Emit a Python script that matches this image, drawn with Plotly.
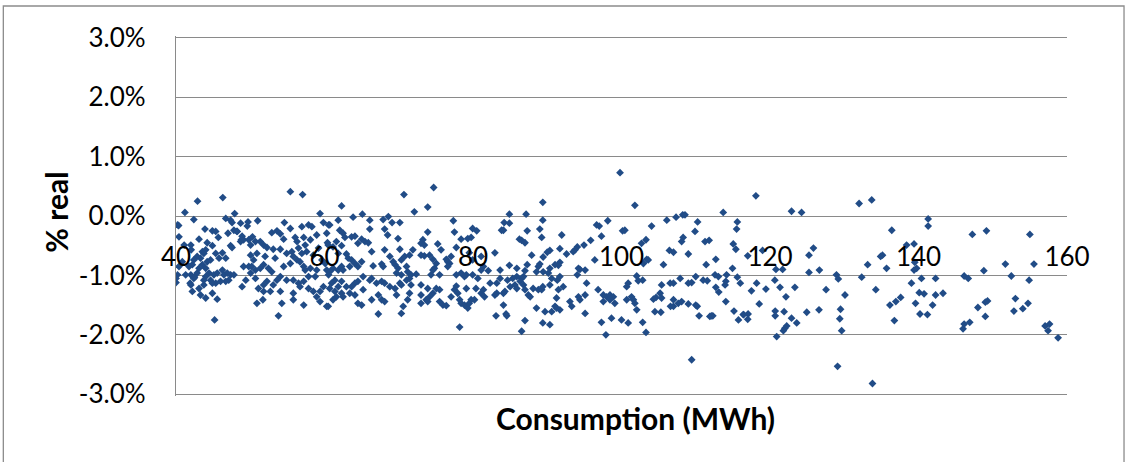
import plotly.graph_objects as go

# (consumption MWh, % real), grouped by consumption band
seg_40_50 = [
    (46.3, 0.31), (42.9, 0.25), (41.2, 0.06), (42.4, -0.06), (40.35, -0.16), (40.4, -0.35),
    (47.9, 0.04), (46.7, -0.04), (47.35, -0.07), (47.55, -0.11), (48.7, -0.12), (49.7, -0.10),
    (49.6, -0.17), (43.9, -0.22), (44.9, -0.25), (45.35, -0.26), (45.7, -0.36), (47.0, -0.29),
    (47.8, -0.24), (48.25, -0.26), (48.9, -0.34), (49.1, -0.40), (49.8, -0.40), (48.7, -0.43),
    (43.1, -0.39), (44.2, -0.45), (44.9, -0.50), (41.1, -0.49), (42.0, -0.49), (42.05, -0.57),
    (44.0, -0.57), (43.55, -0.60), (45.35, -0.63), (46.25, -0.62), (47.35, -0.50), (47.55, -0.53),
    (45.8, -0.71), (46.7, -0.71), (44.65, -0.74), (44.2, -0.77), (43.75, -0.63), (43.3, -0.71),
    (42.85, -0.68), (42.4, -0.74), (42.2, -0.82), (41.75, -0.85), (40.85, -0.77), (40.4, -0.85),
    (40.2, -0.99), (40.0, -1.12), (41.3, -0.99), (42.0, -0.99), (42.4, -1.05), (42.85, -0.96),
    (43.1, -0.88), (43.55, -0.82), (44.0, -0.88), (44.0, -1.02), (43.75, -1.08), (44.45, -0.96),
    (45.1, -0.99), (45.55, -0.96), (46.25, -0.91), (46.45, -0.99), (46.9, -0.96), (47.35, -0.99),
    (47.8, -0.99), (47.1, -1.08), (46.7, -1.10), (46.0, -1.10), (45.35, -1.13), (44.65, -1.08),
    (44.9, -1.13), (43.75, -1.16), (43.1, -1.22), (42.0, -1.16), (42.2, -1.27), (43.3, -1.33),
    (44.0, -1.38), (44.9, -1.30), (45.55, -1.40), (49.1, -0.85), (49.4, -1.08), (48.9, -1.19),
    (49.8, -0.85), (50.05, -0.96), (50.05, -0.66), (50.05, -0.49), (50.3, -0.35), (45.2, -1.75),
    (40.2, -0.15), (40.0, -1.05), (41.9, -1.13), (42.5, -1.03), (48.2, -0.26), (48.8, -0.40),
]

seg_50_60 = [
    (55.4, 0.41), (57.05, 0.36), (59.4, 0.04), (51.0, -0.08), (54.6, -0.11), (55.4, -0.21),
    (56.95, -0.18), (57.85, -0.15), (58.3, -0.18), (59.85, -0.11), (60.55, -0.15), (52.9, -0.28),
    (53.6, -0.25), (54.05, -0.30), (54.5, -0.39), (51.35, -0.43), (50.7, -0.43), (51.8, -0.49),
    (52.25, -0.53), (56.05, -0.36), (57.2, -0.36), (56.3, -0.43), (56.5, -0.54), (57.4, -0.49),
    (58.1, -0.40), (58.95, -0.32), (60.3, -0.29), (60.4, -0.45), (59.2, -0.54), (58.5, -0.66),
    (57.6, -0.60), (56.95, -0.63), (55.6, -0.60), (54.9, -0.63), (55.8, -0.68), (54.05, -0.56),
    (53.1, -0.56), (53.35, -0.71), (52.0, -0.68), (50.9, -0.63), (50.45, -0.74), (50.2, -0.85),
    (50.7, -0.91), (51.35, -0.88), (52.45, -0.88), (52.9, -0.94), (51.8, -0.82), (54.5, -0.85),
    (55.4, -0.80), (56.3, -0.74), (56.7, -0.77), (57.2, -0.85), (57.4, -0.91), (58.1, -0.88),
    (58.95, -0.91), (59.65, -0.74), (60.1, -0.80), (60.3, -0.91), (60.55, -0.99), (58.75, -1.02),
    (57.85, -1.02), (57.2, -1.10), (56.5, -1.13), (55.8, -1.08), (54.9, -1.08), (54.05, -1.02),
    (53.6, -1.08), (53.1, -1.16), (52.25, -1.10), (51.8, -1.16), (51.1, -1.22), (50.7, -1.05),
    (51.8, -1.27), (52.7, -1.27), (54.05, -1.27), (55.8, -1.30), (56.7, -1.19), (57.85, -1.22),
    (58.5, -1.27), (59.4, -1.27), (59.85, -1.19), (58.95, -1.36), (59.4, -1.44), (60.3, -1.52),
    (57.2, -1.50), (55.8, -1.41), (54.25, -1.47), (51.7, -1.41), (50.9, -1.47), (53.8, -1.68),
]

seg_60_71 = [
    (70.7, 0.36), (62.3, 0.17), (65.1, 0.03), (63.85, -0.02), (61.85, -0.07), (66.1, -0.07),
    (67.9, -0.06), (68.6, -0.01), (69.1, -0.11), (70.15, -0.11), (60.7, -0.15), (62.05, -0.24),
    (62.5, -0.29), (62.75, -0.36), (63.65, -0.35), (64.1, -0.34), (65.0, -0.39), (65.45, -0.43),
    (65.9, -0.45), (64.5, -0.46), (66.1, -0.22), (68.1, -0.22), (68.5, -0.32), (69.9, -0.38),
    (70.15, -0.56), (68.1, -0.57), (66.35, -0.60), (62.3, -0.50), (61.6, -0.43), (61.15, -0.52),
    (60.5, -0.49), (61.85, -0.63), (62.95, -0.64), (63.2, -0.71), (63.65, -0.74), (64.1, -0.80),
    (64.5, -0.85), (65.0, -0.77), (63.4, -0.85), (62.3, -0.85), (61.85, -0.91), (62.5, -0.91),
    (61.15, -0.88), (60.7, -0.94), (66.55, -0.84), (67.7, -0.81), (67.9, -0.85), (68.8, -0.68),
    (69.25, -0.77), (69.5, -0.82), (69.9, -0.88), (70.35, -0.74), (70.8, -0.68), (71.05, -0.85),
    (69.7, -0.96), (70.35, -0.99), (71.05, -1.08), (70.15, -1.13), (70.35, -1.16), (69.5, -1.22),
    (68.8, -1.19), (68.1, -1.13), (67.7, -1.10), (67.0, -1.13), (66.35, -1.05), (66.1, -1.08),
    (65.2, -1.02), (64.5, -1.10), (64.1, -1.13), (63.65, -1.19), (62.95, -1.19), (62.3, -1.10),
    (61.85, -1.19), (61.4, -1.08), (60.95, -1.13), (60.7, -1.22), (61.4, -1.27), (62.3, -1.30),
    (61.6, -1.36), (61.15, -1.41), (62.5, -1.36), (63.4, -1.30), (64.1, -1.33), (65.2, -1.24),
    (66.35, -1.41), (67.25, -1.33), (67.7, -1.41), (68.1, -1.44), (64.5, -1.47), (65.0, -1.50),
    (67.25, -1.65), (70.35, -1.64), (70.6, -1.52), (69.7, -1.33), (60.5, -1.52),
]

seg_71_82 = [
    (74.7, 0.48), (72.1, 0.07), (73.9, 0.15), (77.35, -0.08), (77.5, -0.27), (73.9, -0.27),
    (79.95, -0.21), (80.5, -0.25), (79.75, -0.36), (79.3, -0.38), (78.4, -0.39), (77.75, -0.53),
    (73.25, -0.40), (73.0, -0.46), (73.45, -0.49), (75.25, -0.47), (75.7, -0.57), (71.9, -0.57),
    (71.45, -0.66), (73.0, -0.66), (73.45, -0.67), (74.15, -0.66), (74.6, -0.73), (75.05, -0.80),
    (74.8, -0.88), (74.6, -0.91), (76.4, -0.73), (76.6, -0.77), (76.85, -0.80), (77.05, -0.68),
    (76.6, -0.85), (79.5, -0.62), (79.95, -0.74), (81.1, -0.68), (81.4, -0.85), (81.1, -0.91),
    (79.95, -0.99), (80.65, -1.05), (79.1, -0.99), (78.85, -1.02), (78.4, -0.96), (77.75, -0.99),
    (75.5, -0.99), (74.35, -0.99), (72.35, -0.98), (71.65, -0.99), (71.2, -0.94), (71.45, -1.05),
    (71.65, -1.16), (73.0, -1.16), (73.9, -1.22), (75.05, -1.22), (75.5, -1.24), (74.6, -1.30),
    (74.15, -1.36), (73.7, -1.41), (73.0, -1.33), (73.0, -1.47), (73.9, -1.44), (71.45, -1.30),
    (71.2, -1.41), (75.5, -1.44), (75.95, -1.50), (76.4, -1.51), (77.05, -1.36), (77.5, -1.24),
    (77.75, -1.18), (77.95, -1.30), (78.2, -1.41), (78.4, -1.47), (78.85, -1.50), (79.5, -1.47),
    (79.75, -1.41), (80.2, -1.41), (79.3, -1.55), (79.1, -1.22), (80.4, -1.22), (81.1, -1.30),
    (81.4, -1.24), (81.55, -1.36), (78.2, -1.87),
]

seg_82_101 = [
    (99.8, 0.73), (89.4, 0.23), (84.9, 0.03), (87.15, 0.03), (89.4, -0.07), (84.2, -0.11),
    (84.9, -0.12), (83.85, -0.24), (84.1, -0.24), (86.25, -0.39), (86.55, -0.41), (87.0, -0.45),
    (87.3, -0.25), (89.0, -0.22), (89.25, -0.36), (91.95, -0.32), (96.65, -0.15), (97.0, -0.17),
    (98.15, -0.08), (100.15, -0.25), (100.45, -0.24), (97.3, -0.34), (95.85, -0.41), (94.95, -0.49),
    (94.05, -0.52), (93.75, -0.57), (93.5, -0.60), (92.6, -0.64), (91.7, -0.55), (90.35, -0.58),
    (90.0, -0.61), (89.45, -0.69), (89.0, -0.81), (88.8, -0.85), (87.9, -0.66), (87.3, -0.82),
    (87.0, -0.92), (85.9, -0.88), (84.9, -0.83), (83.65, -0.91), (82.95, -0.62), (82.05, -0.92),
    (91.7, -0.78), (91.5, -0.83), (91.05, -0.82), (90.35, -0.88), (90.15, -0.96), (89.45, -0.94),
    (88.55, -0.94), (86.8, -1.02), (86.55, -1.05), (85.9, -1.02), (85.35, -1.05), (84.65, -1.08),
    (83.65, -1.05), (83.2, -1.13), (82.3, -1.13), (82.95, -1.33), (83.2, -1.30), (84.1, -1.30),
    (84.3, -1.27), (85.0, -1.19), (85.65, -1.16), (85.9, -1.22), (86.35, -1.10), (86.8, -1.16),
    (87.0, -1.24), (87.45, -1.33), (87.7, -1.36), (88.1, -1.22), (88.8, -1.24), (89.25, -1.24),
    (89.4, -1.19), (90.35, -1.16), (90.6, -1.05), (91.35, -1.08), (91.7, -1.02), (92.15, -1.19),
    (91.5, -1.24), (91.25, -1.38), (91.7, -1.58), (91.25, -1.55), (91.05, -1.52), (90.6, -1.61),
    (89.7, -1.61), (88.55, -1.55), (84.1, -1.50), (84.45, -1.65), (84.55, -1.68), (83.1, -1.68),
    (87.0, -1.76), (86.55, -1.94), (89.4, -1.80), (90.35, -1.83), (93.05, -1.44), (93.3, -1.52),
    (94.2, -1.36), (94.4, -1.41), (95.1, -1.33), (95.3, -1.13), (94.05, -0.99), (94.2, -0.88),
    (94.4, -0.90), (95.1, -0.91), (96.4, -0.74), (96.85, -1.24), (97.55, -1.33), (98.0, -1.36),
    (98.45, -1.33), (98.9, -1.36), (98.45, -1.41), (99.1, -1.47), (97.55, -1.44), (97.3, -1.79),
    (97.9, -2.00), (98.65, -1.72), (100.0, -1.75), (100.9, -1.80), (100.7, -1.19), (100.9, -1.13),
    (100.7, -1.41), (95.1, -1.64),
]

seg_101_121 = [
    (101.8, 0.18), (118.1, 0.34), (104.05, -0.17), (106.1, -0.07), (107.35, -0.02), (108.25, 0.02),
    (108.55, 0.02), (110.25, -0.10), (109.9, -0.26), (108.3, -0.36), (108.1, -0.43), (113.7, 0.06),
    (115.6, -0.10), (115.5, -0.22), (115.05, -0.47), (115.4, -0.56), (111.25, -0.43), (111.8, -0.41),
    (109.0, -0.64), (106.45, -0.58), (107.0, -0.61), (103.3, -0.40), (102.7, -0.46), (103.4, -0.73),
    (103.6, -0.74), (102.95, -0.80), (105.65, -0.82), (111.4, -0.82), (112.7, -0.73), (117.0, -0.67),
    (119.0, -0.58), (120.8, -0.90), (114.95, -0.88), (114.15, -0.99), (114.05, -1.10), (113.95, -1.16),
    (112.6, -0.99), (113.05, -1.02), (111.0, -1.08), (111.55, -1.09), (110.0, -1.02), (109.45, -1.12),
    (109.0, -1.13), (107.9, -1.05), (106.55, -1.13), (107.0, -1.13), (105.4, -1.16), (102.05, -1.01),
    (102.25, -1.09), (102.85, -1.08), (101.35, -1.36), (101.6, -1.41), (101.8, -1.47), (102.05, -1.58),
    (104.65, -1.37), (104.3, -1.40), (105.2, -1.30), (105.4, -1.38), (107.0, -1.41), (107.65, -1.47),
    (108.1, -1.44), (109.0, -1.48), (110.0, -1.50), (110.2, -1.52), (107.0, -1.52), (106.6, -1.52),
    (104.5, -1.61), (105.3, -1.62), (110.45, -1.68), (111.9, -1.69), (112.3, -1.68), (114.05, -1.44),
    (115.15, -1.60), (115.75, -1.75), (116.4, -1.66), (117.05, -1.65), (117.0, -1.74), (117.5, -1.26),
    (118.2, -1.13), (118.55, -1.48), (119.45, -1.23), (120.65, -1.08), (120.7, -1.60), (120.7, -1.68),
    (120.9, -2.03), (121.35, -1.20), (102.85, -1.79), (103.3, -1.96), (109.45, -2.42), (115.6, -1.03),
    (116.0, -1.13), (112.7, -1.20), (113.1, -1.28), (112.1, -1.68), (116.45, -1.66),
]

seg_121_141 = [
    (122.9, 0.08), (124.25, 0.06), (132.0, 0.21), (133.7, 0.27), (141.3, -0.05), (141.3, -0.17),
    (136.4, -0.24), (138.4, -0.49), (139.4, -0.47), (139.5, -0.78), (139.75, -0.88), (139.4, -0.91),
    (135.15, -0.66), (134.9, -0.68), (135.7, -0.88), (133.15, -0.82), (132.35, -1.03), (134.25, -1.24),
    (128.95, -0.99), (129.2, -1.06), (130.1, -1.33), (127.55, -1.24), (126.65, -0.91), (125.25, -0.95),
    (125.85, -0.54), (125.25, -0.66), (121.7, -0.90), (122.15, -1.36), (123.35, -1.20), (139.05, -1.13),
    (140.4, -1.05), (140.1, -1.29), (140.75, -1.31), (139.6, -1.47), (136.15, -1.50), (136.95, -1.44),
    (137.6, -1.37), (136.75, -1.76), (140.2, -1.65), (141.2, -1.66), (129.5, -1.57), (129.4, -1.73),
    (129.65, -1.93), (126.6, -1.58), (124.95, -1.62), (123.6, -1.80), (122.9, -1.72), (121.9, -1.61),
    (122.0, -1.89), (122.25, -1.85), (121.8, -1.93), (129.1, -2.53), (133.8, -2.82),
]

seg_141_160 = [
    (141.9, -1.50), (142.3, -1.33), (142.3, -1.05), (143.3, -1.30), (147.25, -0.31), (149.15, -0.25),
    (146.15, -1.01), (146.7, -1.05), (148.8, -0.92), (148.0, -1.54), (149.0, -1.69), (149.0, -1.45),
    (149.3, -1.43), (146.9, -1.79), (146.15, -1.82), (146.0, -1.90), (151.7, -0.81), (152.5, -1.01),
    (153.05, -1.39), (152.85, -1.60), (154.05, -1.56), (154.75, -1.47), (155.0, -0.31), (155.55, -0.81),
    (154.9, -1.08), (157.05, -1.85), (157.65, -1.82), (157.45, -1.93), (158.8, -2.05),
]

x_tick_vals = [40, 60, 80, 100, 120, 140, 160]
x_tick_text = ["40", "60", "80", "100", "120", "140", "160"]
y_tick_vals = [-3, -2, -1, 0, 1, 2, 3]
y_tick_text = ["-3.0%", "-2.0%", "-1.0%", "0.0%", "1.0%", "2.0%", "3.0%"]
x_title = "Consumption (MWh)"
y_title = "% real"

segments = [seg_40_50, seg_50_60, seg_60_71, seg_71_82, seg_82_101,
            seg_101_121, seg_121_141, seg_141_160]
consumption = [p[0] for s in segments for p in s]
pct_real = [p[1] for s in segments for p in s]

FONT = "Lato, 'Open Sans', sans-serif"
GRID = "#8A8A8A"
TICK_SIZE = 26
TITLE_SIZE = 30

fig = go.Figure()
fig.add_trace(go.Scatter(
    x=consumption, y=pct_real, mode="markers",
    marker=dict(symbol="diamond", size=6, color="#214C87", line=dict(width=0)),
    showlegend=False, hoverinfo="x+y",
))

fig.update_layout(
    width=1125, height=462,
    margin=dict(l=176, r=58, t=36, b=66, pad=0),
    paper_bgcolor="white", plot_bgcolor="white",
    font=dict(family=FONT, size=TICK_SIZE, color="#000000"),
    xaxis=dict(
        range=[40, 160], tickvals=x_tick_vals, ticktext=x_tick_text,
        showgrid=False, zeroline=False, showline=False, ticks="",
        anchor="free", position=0.5, ticklabelstandoff=23,
        tickfont=dict(family=FONT, size=TICK_SIZE, color="#000000"),
    ),
    yaxis=dict(
        range=[-3.03, 3.03], tickvals=y_tick_vals, ticktext=y_tick_text,
        showgrid=True, gridcolor=GRID, gridwidth=1.3,
        zeroline=False, showline=True, linecolor=GRID, linewidth=1.3,
        ticks="", ticklabelstandoff=24,
        tickfont=dict(family=FONT, size=TICK_SIZE, color="#000000"),
    ),
    annotations=[
        dict(text="<b>" + x_title + "</b>", xref="paper", yref="paper",
             x=0.516, y=-0.061, xanchor="center", yanchor="middle", showarrow=False,
             font=dict(family=FONT, size=TITLE_SIZE, color="#000000")),
        dict(text="<b>" + y_title + "</b>", xref="paper", yref="paper",
             x=-0.1347, y=0.512, xanchor="center", yanchor="middle", showarrow=False,
             textangle=-90, font=dict(family=FONT, size=TITLE_SIZE, color="#000000")),
    ],
    shapes=[
        dict(type="rect", xref="paper", yref="paper",
             x0=-0.1938, x1=1.064, y0=-0.25, y1=1.0833,
             line=dict(color="#8C8C8C", width=1.3), fillcolor="rgba(0,0,0,0)", layer="below"),
    ],
)

fig.write_html(
    "out.html",
    config={"displayModeBar": False},
    post_script="document.body.style.margin='0';document.body.style.padding='0';",
)
